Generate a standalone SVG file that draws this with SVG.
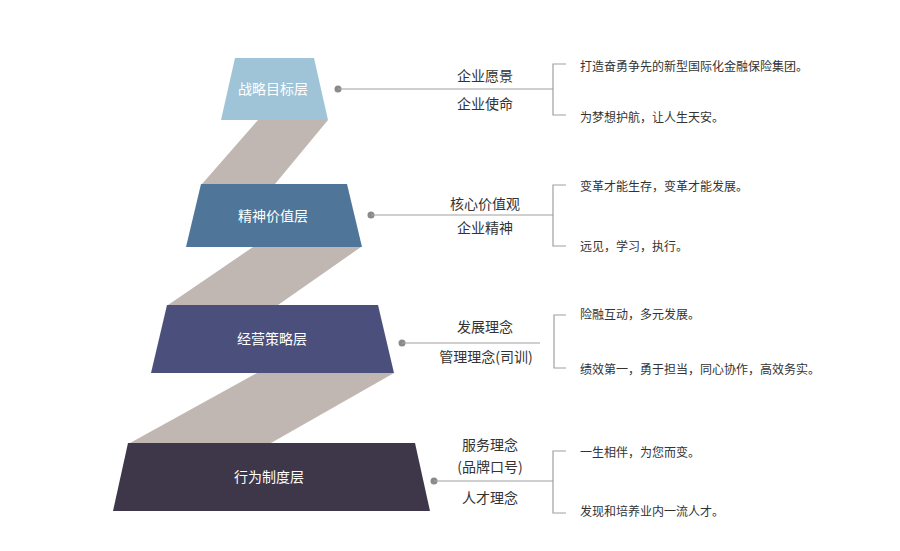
<svg xmlns="http://www.w3.org/2000/svg" width="900" height="551" viewBox="0 0 900 551">
<style>
text{font-family:"Noto Sans CJK SC","Noto Sans",sans-serif;}
.lbl{font-size:14px;fill:#ffffff;text-anchor:middle;}
.mid{font-size:14px;fill:#333333;text-anchor:middle;}
.rt{font-size:12px;fill:#333333;}
.band{fill:#c0b7b2;}
.ln{stroke:#a0a0a0;stroke-width:1.2;fill:none;}
.dot{fill:#8a8a8a;}
</style>
<rect width="900" height="551" fill="#ffffff"/>
<g id="bands">
<polygon class="band" points="258,120 328,120 275,184 202,184"/>
<polygon class="band" points="253,247 361,247 278,305 168,305"/>
<polygon class="band" points="257,373 394,373 271,443 130,443"/>
</g>
<g id="layer1">
<polygon points="235,58 314,58 328,120 221,120" fill="#9fc4d8"/>
<text class="lbl" x="273" y="94">战略目标层</text>
</g>
<g id="layer2">
<polygon points="201,184 347,184 362,247 186,247" fill="#4f7699"/>
<text class="lbl" x="273" y="221">精神价值层</text>
</g>
<g id="layer3">
<polygon points="167,305 378,305 394,373 151,373" fill="#4b4f7b"/>
<text class="lbl" x="272" y="344">经营策略层</text>
</g>
<g id="layer4">
<polygon points="128,443 415,443 430,511 113,511" fill="#3e3749"/>
<text class="lbl" x="269" y="482">行为制度层</text>
</g>
<g id="connectors">
<circle class="dot" cx="338" cy="89" r="3.5"/>
<path class="ln" d="M338,89 H553 M566,64 H553 V115 H566"/>
<circle class="dot" cx="371" cy="215" r="3.5"/>
<path class="ln" d="M371,215 H553 M566,185 H553 V246 H566"/>
<circle class="dot" cx="402" cy="343" r="3.5"/>
<path class="ln" d="M402,343 H540 M566,315 H554 V368 H566"/>
<circle class="dot" cx="434" cy="481" r="3.5"/>
<path class="ln" d="M434,481 H553 M566,451 H553 V513 H566"/>
</g>
<g id="labels">
<text class="mid" x="485" y="81">企业愿景</text>
<text class="mid" x="485" y="109">企业使命</text>
<text class="mid" x="485" y="209">核心价值观</text>
<text class="mid" x="485" y="233">企业精神</text>
<text class="mid" x="485" y="332">发展理念</text>
<text class="mid" x="486" y="362">管理理念(司训)</text>
<text class="mid" x="490" y="450">服务理念</text>
<text class="mid" x="490" y="472">(品牌口号)</text>
<text class="mid" x="490" y="503">人才理念</text>
<text class="rt" x="580" y="71">打造奋勇争先的新型国际化金融保险集团。</text>
<text class="rt" x="580" y="122">为梦想护航，让人生天安。</text>
<text class="rt" x="580" y="191">变革才能生存，变革才能发展。</text>
<text class="rt" x="580" y="251">远见，学习，执行。</text>
<text class="rt" x="580" y="319">险融互动，多元发展。</text>
<text class="rt" x="580" y="374">绩效第一，勇于担当，同心协作，高效务实。</text>
<text class="rt" x="580" y="457">一生相伴，为您而变。</text>
<text class="rt" x="580" y="516">发现和培养业内一流人才。</text>
</g>
</svg>
